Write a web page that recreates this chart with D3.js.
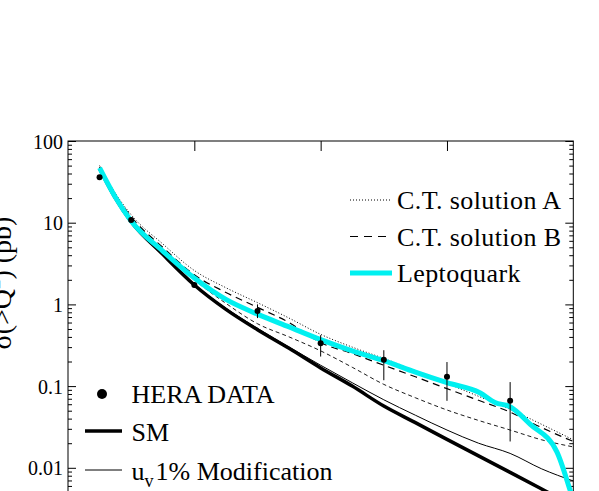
<!DOCTYPE html>
<html>
<head>
<meta charset="utf-8">
<script src="https://cdn.jsdelivr.net/npm/d3@7/dist/d3.min.js"></script>
<style>
 html,body{margin:0;padding:0;background:#fff;overflow:hidden}
 text{font-family:"Liberation Serif","Times New Roman",serif;fill:#000}
</style>
</head>
<body>
<svg id="chart" width="599" height="491"></svg>
<script>
// cumulative cross section sigma(>Q^2) in pb, Q^2 in GeV^2
const qGrid=[2500,3750,5000,7500,10000,12500,15000,17500,20000,22500,25000,27500,30000,32500,35000,37500,40000];
const smValues=[46,20,10.3,4.1,1.73,0.87,0.49,0.29,0.167,0.1,0.057,0.0357,0.0223,0.014,0.0088,0.0055,0.0034];
const uv1Values=[46.5,20.3,10.5,4.2,1.77,0.9,0.51,0.3,0.18,0.11,0.068,0.044,0.029,0.02,0.015,0.0097,0.0069];
const dashedValues=[47,21,10.8,4.6,2.0,1.03,0.58,0.4,0.27,0.17,0.105,0.072,0.051,0.038,0.029,0.022,0.018];
const ctAValues=[50,23,12.5,5.5,2.6,1.6,1.05,0.68,0.43,0.3,0.218,0.155,0.108,0.075,0.052,0.034,0.022];
const ctBValues=[48,22,11.8,5.0,2.3,1.4,0.92,0.6,0.34,0.25,0.18,0.13,0.093,0.067,0.048,0.031,0.021];
const leptoQ=[2500,3750,5000,7500,10000,12500,15000,17500,20000,22500,25000,27500,30000,32600,33800,35000,36600,38700,39750,40000];
const leptoValues=[47,20.5,10.5,4.5,2.1,1.15,0.76,0.53,0.37,0.27,0.205,0.148,0.11,0.083,0.063,0.056,0.034,0.0157,0.0053,0.004];
const heraQ=[2500,5000,10000,15000,20000,25000,30000,35000];
const heraValues=[36,10.8,1.73,0.83,0.334,0.21,0.13,0.066];
const heraLow=[34.5,10.2,1.6,0.68,0.23,0.118,0.066,0.021];
const heraHigh=[37.5,11.4,1.87,1.0,0.42,0.275,0.197,0.112];
const xTicks=[10000,20000,30000];
const yTicks=[0.01,0.1,1,10,100];

const svg=d3.select('#chart');
const plotLeft=68,plotRight=573.3,plotTop=141,plotBottom=549.5;
const x=d3.scaleLinear().domain([0,40000]).range([plotLeft,plotRight]);
const y=d3.scaleLog().domain([0.001,100]).range([plotBottom,plotTop]);

svg.append('defs').append('clipPath').attr('id','plot')
 .append('rect').attr('x',plotLeft).attr('y',plotTop).attr('width',plotRight-plotLeft).attr('height',plotBottom-plotTop);

// axes: ticks point inward on every side
const minor=y.ticks().filter(v=>!yTicks.some(t=>Math.abs(t-v)/t<1e-6));
svg.append('g').attr('transform',`translate(${plotLeft},0)`)
 .call(d3.axisLeft(y).tickValues(minor).tickSize(-4).tickFormat(''))
 .call(g=>g.select('.domain').remove());
svg.append('g').attr('transform',`translate(${plotLeft},0)`)
 .call(d3.axisLeft(y).tickValues(yTicks).tickSize(-8).tickPadding(5).tickFormat(d=>String(d)))
 .call(g=>g.select('.domain').remove())
 .call(g=>g.selectAll('text').attr('font-size',20).attr('dy','0.35em'));
svg.append('g').attr('transform',`translate(${plotRight},0)`)
 .call(d3.axisRight(y).tickValues(minor).tickSize(-4).tickFormat(''))
 .call(g=>g.select('.domain').remove());
svg.append('g').attr('transform',`translate(${plotRight},0)`)
 .call(d3.axisRight(y).tickValues(yTicks).tickSize(-8).tickFormat(''))
 .call(g=>g.select('.domain').remove());
svg.append('g').attr('transform',`translate(0,${plotTop})`)
 .call(d3.axisTop(x).tickValues(xTicks).tickSize(-10).tickFormat(''))
 .call(g=>g.select('.domain').remove());
svg.append('rect').attr('x',plotLeft).attr('y',plotTop).attr('width',plotRight-plotLeft).attr('height',plotBottom-plotTop)
 .attr('fill','none').attr('stroke','#000').attr('stroke-width',1);

// y title, partly outside the page like the original
svg.append('text').attr('transform','translate(11,283) rotate(-90)').attr('text-anchor','middle')
 .attr('font-size',28)
 .call(t=>{t.append('tspan').text('σ(>Q');
  t.append('tspan').attr('font-size',19).attr('dy',-11).text('2');
  t.append('tspan').attr('dy',11).text(') (pb)');});

const series=[
 {name:'dashed',q:qGrid,v:dashedValues,color:'#000',width:0.9,dash:'4,3'},
 {name:'uv1',q:qGrid,v:uv1Values,color:'#000',width:1,dash:null},
 {name:'SM',q:qGrid,v:smValues,color:'#000',width:3.5,dash:null},
 {name:'ctB',q:qGrid,v:ctBValues,color:'#000',width:1.2,dash:'7,5'},
 {name:'ctA',q:qGrid,v:ctAValues,color:'#000',width:1,dash:'1,2'},
 {name:'lepto',q:leptoQ,v:leptoValues,color:'#00f0f0',width:5,dash:null}
];
const line=d3.line().x(d=>x(d[0])).y(d=>y(d[1])).curve(d3.curveMonotoneX);
const plot=svg.append('g').attr('clip-path','url(#plot)');
plot.selectAll('path.curve').data(series).join('path').attr('class','curve')
 .attr('d',s=>line(d3.zip(s.q,s.v))).attr('fill','none')
 .attr('stroke',s=>s.color).attr('stroke-width',s=>s.width).attr('stroke-dasharray',s=>s.dash);

const hera=d3.zip(heraQ,heraValues,heraLow,heraHigh);
plot.selectAll('line.err').data(hera).join('line').attr('class','err')
 .attr('x1',d=>x(d[0])).attr('x2',d=>x(d[0])).attr('y1',d=>y(d[2])).attr('y2',d=>y(d[3]))
 .attr('stroke','#000').attr('stroke-width',1);
plot.selectAll('circle.pt').data(hera).join('circle').attr('class','pt')
 .attr('cx',d=>x(d[0])).attr('cy',d=>y(d[1])).attr('r',3).attr('fill','#000');

// legend, upper right
const legA=[
 {label:'C.T. solution A',width:1,dash:'1,2',color:'#000'},
 {label:'C.T. solution B',width:1.2,dash:'8,6',color:'#000'},
 {label:'Leptoquark',width:5,dash:null,color:'#00f0f0'}];
const la=svg.append('g').selectAll('g').data(legA).join('g').attr('transform',(d,i)=>`translate(350,${200+i*36.5})`);
la.append('line').attr('x1',0).attr('x2',42).attr('stroke',d=>d.color).attr('stroke-width',d=>d.width).attr('stroke-dasharray',d=>d.dash);
la.append('text').attr('x',47).attr('y',9).attr('font-size',26).attr('letter-spacing',0.4).text(d=>d.label);

// legend, lower left
const lb=svg.append('g');
lb.append('circle').attr('cx',102).attr('cy',394).attr('r',5).attr('fill','#000');
lb.append('text').attr('x',131.5).attr('y',403).attr('font-size',26).text('HERA DATA');
lb.append('line').attr('x1',85).attr('x2',122).attr('y1',431).attr('y2',431).attr('stroke','#000').attr('stroke-width',3.5);
lb.append('text').attr('x',131.5).attr('y',441).attr('font-size',26).text('SM');
lb.append('line').attr('x1',85).attr('x2',122).attr('y1',470).attr('y2',470).attr('stroke','#000').attr('stroke-width',1);
lb.append('text').attr('x',131.5).attr('y',480).attr('font-size',26)
 .call(t=>{t.append('tspan').text('u');
  t.append('tspan').attr('font-size',18).attr('dy',7).text('v');
  t.append('tspan').attr('dy',-7).attr('dx',2).text('1% Modification');});
</script>
</body>
</html>
